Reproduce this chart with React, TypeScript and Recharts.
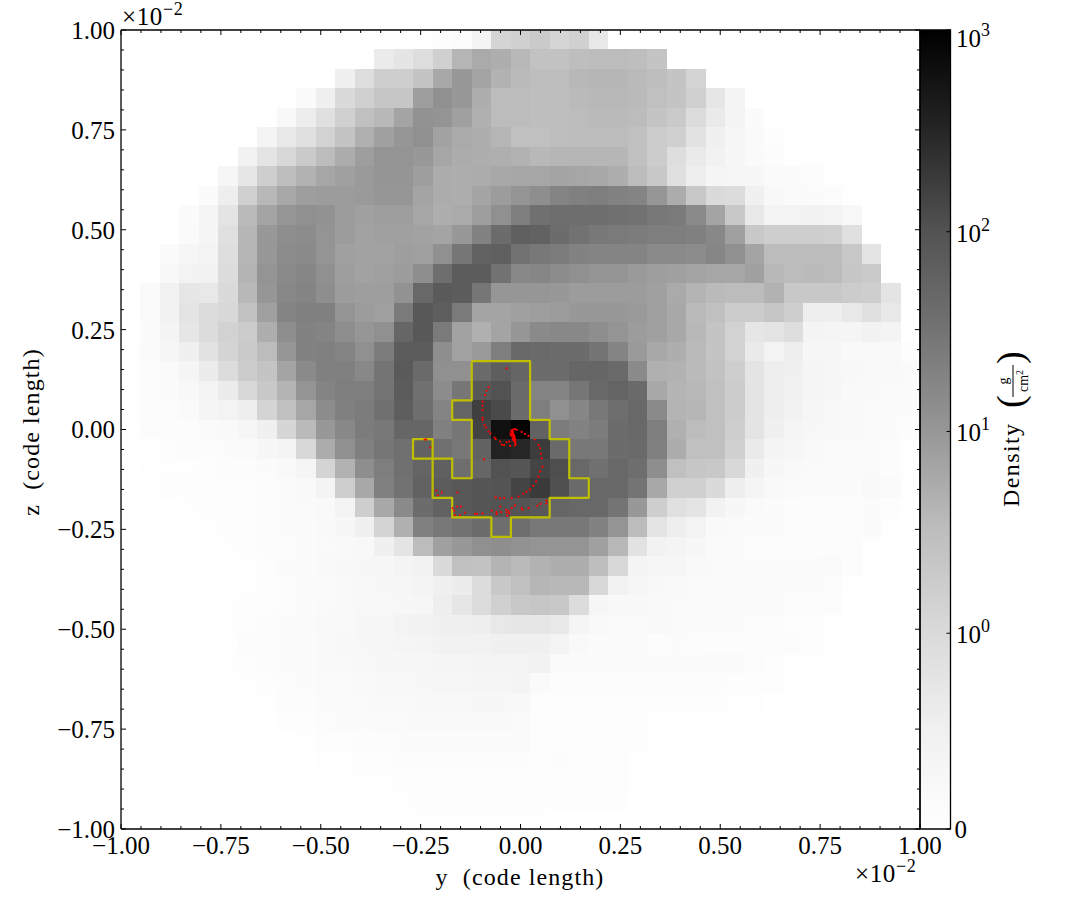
import { ScatterChart, Scatter, XAxis, YAxis, ReferenceArea } from "recharts";

const FONT = "'Liberation Serif', serif";
const WIDTH = 1085;
const HEIGHT = 919;
const PLOT = { left: 121, right: 920, top: 30, bottom: 829 };

// width of one grid cell in axis units (x 10^-2 code length)
const CELL_STEP = 0.04883;
const CELL_PX = 19.53;
const THIN = 0.001;

const majorTicks = [-1, -0.75, -0.5, -0.25, 0, 0.25, 0.5, 0.75, 1];
const minorTicks = [
  -0.95, -0.9, -0.85, -0.8, -0.7, -0.65, -0.6, -0.55, -0.45, -0.4, -0.35, -0.3, -0.2, -0.15, -0.1, -0.05,
  0.05, 0.1, 0.15, 0.2, 0.3, 0.35, 0.4, 0.45, 0.55, 0.6, 0.65, 0.7, 0.8, 0.85, 0.9, 0.95,
];

const colorbarTicks = [0, 0.98, 1.99, 2.99, 4];
const colorbarLabels = ["0", "0", "1", "2", "3"];
const colorbarStops = ["#ffffff", "#f0f0f0", "#d9d9d9", "#bdbdbd", "#969696", "#737373", "#525252", "#252525", "#000000"];

// projected density, read as darkness 0-255, one row per z cell from the top
const densityLevels = [
  [0,0,0,0,0,0,0,0,0,0,0,0,0,0,0,0,2,3,11,43,47,53,41,47,23,0,0,0,0,0,0,0,0,0,0,0,0,0,0,0,0],
  [0,0,0,0,0,0,0,0,0,0,0,0,0,20,26,34,47,74,85,81,71,61,61,65,67,67,65,59,0,0,0,0,0,0,0,0,0,0,0,0,0],
  [0,0,0,0,0,0,0,0,0,0,0,15,34,49,49,59,87,103,91,77,69,65,65,71,73,73,69,65,59,43,0,0,0,0,0,0,0,0,0,0,0],
  [0,0,0,0,0,0,0,0,0,4,15,37,47,57,57,97,111,103,81,67,67,65,65,69,71,71,69,63,59,47,25,11,0,0,0,0,0,0,0,0,0],
  [0,0,0,0,0,0,0,0,7,18,31,47,63,71,91,109,107,95,79,67,67,65,65,67,69,69,67,59,53,35,21,11,4,0,0,0,0,0,0,0,0],
  [0,0,0,0,0,0,0,11,23,31,45,59,79,95,105,111,93,85,81,74,63,63,65,67,67,67,63,51,47,29,15,9,5,2,0,0,0,0,0,0,0],
  [0,0,0,0,0,0,13,27,39,53,67,83,97,107,107,103,89,83,81,80,77,71,73,73,73,73,63,51,33,21,13,8,5,3,1,1,0,0,0,0,0],
  [0,0,0,0,0,9,25,49,65,77,89,95,101,106,106,97,83,81,83,87,89,89,91,89,87,81,67,55,31,17,10,9,8,5,4,3,1,0,0,0,0],
  [0,0,0,0,4,17,47,71,87,97,99,99,101,105,105,91,83,81,91,99,107,113,123,127,129,125,123,105,83,55,37,35,15,7,5,4,3,1,0,0,0],
  [0,0,0,4,10,27,69,91,105,111,109,99,95,97,97,89,81,85,97,111,129,143,145,145,145,143,141,135,133,117,91,55,23,12,12,13,12,7,0,0,0],
  [0,0,0,5,10,31,73,103,113,115,107,99,93,95,95,93,91,103,125,147,159,157,147,141,135,133,131,129,129,127,119,95,55,49,49,49,47,31,0,0,0],
  [0,0,4,9,12,33,73,103,115,117,107,95,93,93,97,95,111,137,157,159,141,135,131,125,123,123,123,117,117,115,121,111,91,67,67,67,67,55,27,0,0],
  [0,0,7,12,13,35,75,107,117,121,111,97,93,95,99,113,145,163,163,141,119,121,115,111,107,107,101,97,95,91,89,89,95,71,67,69,67,57,53,0,0],
  [0,5,13,25,23,37,71,105,119,123,113,99,97,97,109,151,165,163,137,105,105,105,103,99,99,99,99,95,85,75,69,67,67,77,55,55,55,51,49,27,0],
  [0,5,13,27,35,39,61,95,123,127,127,107,99,95,133,167,161,133,91,91,95,97,99,103,103,103,101,95,87,69,63,51,51,57,49,17,17,23,31,23,0],
  [0,4,11,25,35,45,51,81,113,125,123,113,105,111,153,167,133,93,79,91,105,117,119,119,113,107,99,95,87,71,59,45,25,27,33,11,10,10,13,11,0],
  [1,4,9,15,29,43,53,67,105,125,127,123,111,131,163,163,113,93,101,129,151,149,147,147,139,123,101,87,81,69,59,45,21,12,17,9,8,6,6,6,2],
  [1,3,5,10,19,35,51,59,91,117,127,127,119,139,165,149,111,111,149,161,154,147,147,153,153,149,117,79,77,69,61,49,27,17,15,10,8,7,6,6,5],
  [1,3,4,7,12,19,39,55,75,107,123,129,129,139,163,143,115,137,167,173,149,123,123,137,151,155,149,87,75,71,63,51,27,17,14,10,8,6,6,5,4],
  [1,3,3,5,10,12,17,43,63,89,115,127,131,143,161,145,123,155,191,181,147,129,111,121,135,145,151,117,75,73,63,51,27,17,13,9,7,6,5,4,4],
  [0,3,3,3,5,6,9,15,41,69,103,119,131,135,153,153,127,137,189,239,251,157,131,125,131,147,151,129,79,67,63,49,27,15,10,8,7,6,5,4,3],
  [0,0,2,3,3,4,5,8,11,39,83,111,127,137,143,157,143,135,157,221,217,195,149,135,135,147,149,127,83,63,63,47,21,11,8,6,5,4,4,3,1],
  [0,1,1,1,2,3,3,4,6,10,43,77,113,129,143,155,159,145,153,173,169,187,177,151,143,151,145,113,63,57,55,39,15,8,6,5,4,4,5,3,1],
  [0,0,2,2,2,2,2,3,4,6,11,49,87,127,141,157,163,167,169,171,187,197,175,149,151,151,139,87,47,47,37,17,10,6,5,4,4,4,6,5,1],
  [0,0,0,1,2,2,2,3,4,5,6,12,49,87,117,147,157,167,169,171,171,167,153,151,151,139,103,49,31,27,13,8,5,4,3,3,3,3,4,2,0],
  [0,0,0,0,1,2,2,3,4,4,6,8,15,43,79,127,135,141,147,145,145,135,135,135,125,107,67,27,17,12,6,5,4,4,3,3,3,3,4,1,0],
  [0,0,0,0,0,1,2,3,3,4,5,6,7,15,27,67,95,103,111,113,109,107,107,107,95,71,29,13,11,8,5,4,3,3,3,3,3,3,1,0,0],
  [0,0,0,0,0,0,1,2,4,4,6,7,8,9,11,13,37,63,61,75,69,77,81,81,65,39,11,9,9,6,5,4,4,4,4,4,5,3,1,0,0],
  [0,0,0,0,0,0,1,2,3,5,5,6,7,8,9,11,15,19,35,55,63,73,71,71,39,13,9,7,6,5,5,4,4,4,4,4,3,1,0,0,0],
  [0,0,0,0,0,1,2,2,3,4,5,6,7,7,8,9,17,25,35,47,55,57,55,35,9,7,7,6,5,5,4,4,4,4,3,3,3,0,0,0,0],
  [0,0,0,0,1,1,2,3,4,5,6,6,8,9,12,13,15,15,17,23,25,25,23,10,6,5,5,6,5,4,4,4,3,3,2,2,0,0,0,0,0],
  [0,0,0,0,1,1,3,3,4,4,6,7,8,9,10,11,13,13,13,15,15,15,11,6,4,4,4,3,4,3,3,3,3,3,3,2,0,0,0,0,0],
  [0,0,0,0,0,1,2,3,4,4,6,6,7,8,8,9,10,10,11,12,12,13,5,4,4,4,4,4,4,4,5,5,3,2,1,1,0,0,0,0,0],
  [0,0,0,0,0,0,1,2,3,4,5,5,6,7,7,8,9,9,10,10,11,5,3,3,3,3,3,3,3,3,3,2,2,2,1,0,0,0,0,0,0],
  [0,0,0,0,0,0,0,1,3,3,4,5,5,6,6,7,7,7,8,8,7,2,2,2,2,2,2,2,2,2,2,1,1,0,0,0,0,0,0,0,0],
  [0,0,0,0,0,0,0,0,2,2,3,4,4,5,5,6,6,6,6,6,5,2,2,2,2,2,2,1,0,0,0,0,0,0,0,0,0,0,0,0,0],
  [0,0,0,0,0,0,0,0,0,1,2,2,3,3,4,4,4,4,4,4,4,2,2,2,2,2,2,1,1,0,0,0,0,0,0,0,0,0,0,0,0],
  [0,0,0,0,0,0,0,0,0,0,1,1,2,2,3,3,3,3,3,3,3,2,3,2,2,2,1,1,0,0,0,0,0,0,0,0,0,0,0,0,0],
  [0,0,0,0,0,0,0,0,0,0,0,1,1,1,2,2,2,2,2,2,2,2,2,2,2,2,1,0,0,0,0,0,0,0,0,0,0,0,0,0,0],
  [0,0,0,0,0,0,0,0,0,0,0,0,1,1,1,2,2,2,2,2,2,2,2,2,2,2,0,0,0,0,0,0,0,0,0,0,0,0,0,0,0],
  [0,0,0,0,0,0,0,0,0,0,0,0,0,0,0,1,1,1,1,1,1,1,0,0,0,0,0,0,0,0,0,0,0,0,0,0,0,0,0,0,0],
];

const contourY = [
  -0.122, 0.024, 0.024, 0.073, 0.073, 0.122, 0.122, 0.171, 0.171, 0.073, 0.073, -0.024, -0.024, -0.073, -0.073,
  -0.171, -0.171, -0.22, -0.22, -0.269, -0.269, -0.22, -0.22, -0.171, -0.171, -0.122, -0.122, -0.171, -0.171, -0.122, -0.122,
];
const contourZ = [
  0.171, 0.171, 0.024, 0.024, -0.024, -0.024, -0.122, -0.122, -0.171, -0.171, -0.22, -0.22, -0.269, -0.269, -0.22,
  -0.22, -0.171, -0.171, -0.073, -0.073, -0.024, -0.024, -0.073, -0.073, -0.122, -0.122, 0.024, 0.024, 0.073, 0.073, 0.171,
];

const particleY = [
  -0.035, -0.08, -0.085, -0.089, -0.095, -0.095, -0.095, -0.095, -0.095, -0.09, -0.086, -0.08, -0.075, -0.065, -0.062, -0.051,
  -0.047, -0.041, -0.035, -0.028, -0.026, -0.018, -0.014, -0.01, -0.022, -0.025, -0.024, -0.022, -0.02, -0.018, -0.016, -0.014,
  -0.012, -0.014, -0.018, -0.015, -0.02, 0.003, 0.011, 0.02, 0.036, 0.045, 0.049, 0.051, 0.053, 0.055, 0.049, 0.045,
  0.039, 0.032, 0.024, 0.015, 0.007, -0.005, -0.022, -0.041, -0.051, -0.062, -0.211, -0.207, -0.197, -0.158, -0.17, -0.166,
  -0.158, -0.149, -0.164, -0.151, -0.139, -0.114, -0.108, -0.095, -0.072, -0.06, -0.06, -0.049, -0.036, -0.035, -0.03, -0.022,
  -0.028, -0.033, -0.014, 0.003, 0.005, 0.02, 0.042, 0.05, 0.065, 0.065, -0.051, -0.24, -0.236, -0.226, -0.091,
  -0.023, -0.021, -0.019, -0.017, -0.016, -0.015, -0.013, -0.021, -0.019, -0.017, -0.015, -0.013,
];
const particleZ = [
  0.153, 0.106, 0.097, 0.086, 0.07, 0.06, 0.049, 0.03, 0.024, 0.011, 0.005, -0.005, -0.01, -0.02, -0.024, -0.03,
  -0.038, -0.039, -0.032, -0.03, -0.041, 0, 0.001, -0.001, -0.003, -0.01, -0.014, -0.016, -0.022, -0.026, -0.029, -0.033,
  -0.037, -0.04, -0.018, -0.022, -0.01, -0.006, -0.011, -0.016, -0.025, -0.039, -0.047, -0.061, -0.072, -0.093, -0.105, -0.118,
  -0.13, -0.141, -0.15, -0.156, -0.161, -0.168, -0.172, -0.172, -0.172, -0.17, -0.153, -0.164, -0.158, -0.158, -0.197, -0.203,
  -0.193, -0.193, -0.214, -0.214, -0.208, -0.211, -0.211, -0.21, -0.203, -0.207, -0.212, -0.207, -0.201, -0.208, -0.204, -0.197,
  -0.21, -0.216, -0.19, -0.197, -0.201, -0.197, -0.191, -0.186, -0.178, -0.185, -0.193, -0.025, -0.025, -0.045, -0.075,
  -0.004, -0.007, -0.012, -0.015, -0.02, -0.024, -0.03, -0.002, -0.006, -0.013, -0.018, -0.025,
];

const cells = densityLevels.flatMap((row, r) =>
  row.map((level, c) => ({ y: (c - 20) * CELL_STEP, z: (20 - r) * CELL_STEP, level }))
);
const contour = contourY.map((y, i) => ({ y, z: contourZ[i] }));
const particles = particleY.map((y, i) => ({ y, z: particleZ[i] }));
const anchor = [{ y: 0, z: 0 }];

const fmt = (v: number) => (v < 0 ? "\u2212" : "") + Math.abs(v).toFixed(2);

const NoLabel = () => <g />;
const NoMark = () => null;

function HeatCell(props: any) {
  const { cx, cy, payload } = props;
  if (!payload.level) return null;
  const g = 255 - payload.level;
  return (
    <rect
      x={cx - CELL_PX / 2}
      y={cy - CELL_PX / 2}
      width={CELL_PX}
      height={CELL_PX}
      fill={`rgb(${g},${g},${g})`}
      shapeRendering="crispEdges"
    />
  );
}

function ParticleDot(props: any) {
  return <circle cx={props.cx} cy={props.cy} r={1.1} fill="#ff0000" />;
}

function ColorbarTick(props: any) {
  const { x, y, index } = props;
  const exp = colorbarLabels[index];
  if (index === 0) {
    return (
      <text x={x + 6} y={y + 9} fontFamily={FONT} fontSize={25}>
        0
      </text>
    );
  }
  // the top label is pushed down so it stays beside the bar
  return (
    <text x={x + 7.5} y={index === 4 ? y + 17 : y + 10} fontFamily={FONT} fontSize={25}>
      10
      <tspan dy={-11} fontSize={18}>
        {exp}
      </tspan>
    </text>
  );
}

function Offset({ x, y }: { x: number; y: number }) {
  return (
    <text x={x} y={y} fontFamily={FONT} fontSize={25} letterSpacing={0.6}>
      {"\u00d710"}
      <tspan dy={-10} fontSize={18}>
        {"\u22122"}
      </tspan>
    </text>
  );
}

export default function App() {
  const tickStyle = { fontSize: 25, fill: "#000", fontFamily: FONT };
  const margin = { left: PLOT.left, right: WIDTH - PLOT.right, top: PLOT.top, bottom: HEIGHT - PLOT.bottom };
  const line = { stroke: "#000", strokeWidth: 1.3 };
  const tl = { stroke: "#000", strokeWidth: 1 };

  return (
    <div style={{ position: "absolute", left: 0, top: 0, width: WIDTH, height: HEIGHT, background: "#fff" }}>
      <div style={{ position: "absolute", left: 0, top: 0 }}>
        <ScatterChart width={WIDTH} height={HEIGHT} margin={margin}>
          <XAxis xAxisId="main" type="number" dataKey="y" domain={[-1, 1]} allowDataOverflow hide />
          <YAxis yAxisId="main" type="number" dataKey="z" domain={[-1, 1]} allowDataOverflow hide />
          <Scatter xAxisId="main" yAxisId="main" data={cells} shape={HeatCell} isAnimationActive={false} />
          <Scatter xAxisId="main" yAxisId="main" data={contour} shape={NoMark} isAnimationActive={false}
            line={{ stroke: "#bfbf00", strokeWidth: 2.2, strokeLinejoin: "round", fill: "none" }} />
          <Scatter xAxisId="main" yAxisId="main" data={particles} shape={ParticleDot} isAnimationActive={false} />
        </ScatterChart>
      </div>

      <div style={{ position: "absolute", left: 0, top: 0 }}>
        <ScatterChart width={WIDTH} height={HEIGHT} margin={{ ...margin, left: PLOT.right, right: WIDTH - 950.5 }}>
          <defs>
            <linearGradient id="greys" x1="0" y1="1" x2="0" y2="0">
              {colorbarStops.map((c, i) => (
                <stop key={c} offset={i / (colorbarStops.length - 1)} stopColor={c} />
              ))}
            </linearGradient>
          </defs>
          <XAxis type="number" dataKey="y" domain={[0, 1]} height={THIN} tick={false} tickLine={false} axisLine={false} />
          <YAxis orientation="right" type="number" dataKey="z" domain={[0, 4]} ticks={colorbarTicks} interval={0}
            width={THIN} tickSize={-4} tick={ColorbarTick} axisLine={false} tickLine={tl} />
          <Scatter data={anchor} shape={NoMark} isAnimationActive={false} />
          <ReferenceArea x1={0} x2={1} y1={0} y2={4} fill="url(#greys)" fillOpacity={1} stroke="#000" strokeWidth={1.3} ifOverflow="visible" />
        </ScatterChart>
      </div>

      <div style={{ position: "absolute", left: 0, top: 0 }}>
        <ScatterChart width={WIDTH} height={HEIGHT} margin={margin}>
          <XAxis xAxisId="main" type="number" dataKey="y" domain={[-1, 1]} allowDataOverflow ticks={majorTicks} interval={0}
            height={THIN} tickSize={-5} tickMargin={12} tick={tickStyle} tickFormatter={fmt} axisLine={line} tickLine={tl} />
          <XAxis xAxisId="minorB" type="number" dataKey="y" domain={[-1, 1]} allowDataOverflow ticks={minorTicks} interval={0}
            height={THIN} tickSize={-3} tick={NoLabel} axisLine={false} tickLine={tl} />
          <XAxis xAxisId="majorT" orientation="top" type="number" dataKey="y" domain={[-1, 1]} allowDataOverflow ticks={majorTicks} interval={0}
            height={THIN} tickSize={-5} tick={NoLabel} axisLine={line} tickLine={tl} />
          <XAxis xAxisId="minorT" orientation="top" type="number" dataKey="y" domain={[-1, 1]} allowDataOverflow ticks={minorTicks} interval={0}
            height={THIN} tickSize={-3} tick={NoLabel} axisLine={false} tickLine={tl} />
          <YAxis yAxisId="main" type="number" dataKey="z" domain={[-1, 1]} allowDataOverflow ticks={majorTicks} interval={0}
            width={THIN} tickSize={-5} tickMargin={11} tick={tickStyle} tickFormatter={fmt} axisLine={line} tickLine={tl} />
          <YAxis yAxisId="minorL" type="number" dataKey="z" domain={[-1, 1]} allowDataOverflow ticks={minorTicks} interval={0}
            width={THIN} tickSize={-3} tick={NoLabel} axisLine={false} tickLine={tl} />
          <YAxis yAxisId="majorR" orientation="right" type="number" dataKey="z" domain={[-1, 1]} allowDataOverflow ticks={majorTicks} interval={0}
            width={THIN} tickSize={-5} tick={NoLabel} axisLine={line} tickLine={tl} />
          <YAxis yAxisId="minorR" orientation="right" type="number" dataKey="z" domain={[-1, 1]} allowDataOverflow ticks={minorTicks} interval={0}
            width={THIN} tickSize={-3} tick={NoLabel} axisLine={false} tickLine={tl} />
          <Scatter xAxisId="main" yAxisId="main" data={anchor} shape={NoMark} isAnimationActive={false} />
          <Scatter xAxisId="minorB" yAxisId="minorL" data={anchor} shape={NoMark} isAnimationActive={false} />
          <Scatter xAxisId="majorT" yAxisId="majorR" data={anchor} shape={NoMark} isAnimationActive={false} />
          <Scatter xAxisId="minorT" yAxisId="minorR" data={anchor} shape={NoMark} isAnimationActive={false} />
        </ScatterChart>
      </div>

      <svg width={WIDTH} height={HEIGHT} style={{ position: "absolute", left: 0, top: 0, pointerEvents: "none" }}>
        <Offset x={122} y={25} />
        <Offset x={855} y={882} />
        <text x={520} y={885} textAnchor="middle" fontFamily={FONT} fontSize={24} letterSpacing={1.1} xmlSpace="preserve">
          y  (code length)
        </text>
        <text transform="translate(39,432) rotate(-90)" textAnchor="middle" fontFamily={FONT} fontSize={24} letterSpacing={1.1} xmlSpace="preserve">
          z  (code length)
        </text>
        <g transform="translate(1019,507) rotate(-90)" fontFamily={FONT}>
          <text x={0} y={0} fontSize={24} letterSpacing={1.4}>Density</text>
          <text x={99} y={4} fontSize={38} fontWeight={300}>(</text>
          <text x={126} y={-11} fontSize={14} textAnchor="middle">g</text>
          <line x1={110} x2={142} y1={-6} y2={-6} stroke="#000" strokeWidth={1} />
          <text x={126} y={9} fontSize={14} textAnchor="middle">
            cm
            <tspan dy={-5} fontSize={10}>2</tspan>
          </text>
          <text x={143} y={4} fontSize={38} fontWeight={300}>)</text>
        </g>
      </svg>
    </div>
  );
}
